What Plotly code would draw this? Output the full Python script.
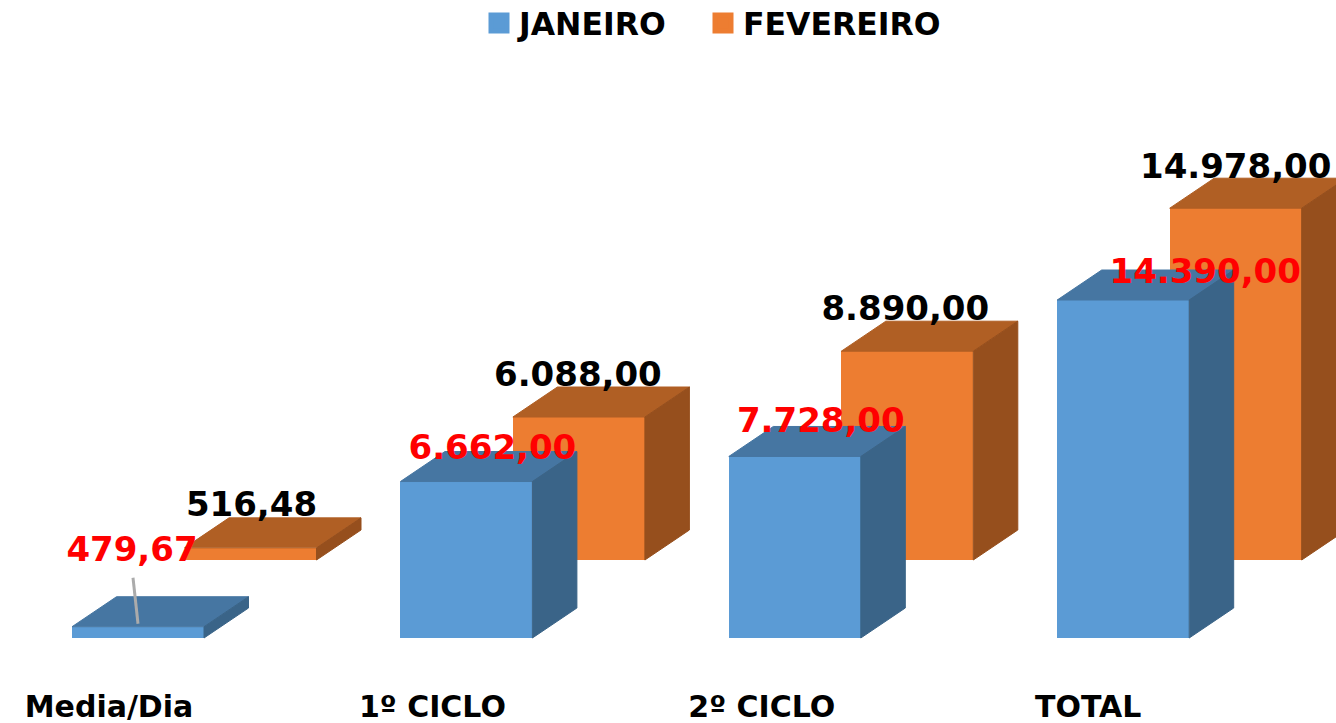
import plotly.graph_objects as go

# --- data ---
categories = ["Media/Dia", "1º CICLO", "2º CICLO", "TOTAL"]
janeiro = [479.67, 6662.00, 7728.00, 14390.00]
fevereiro = [516.48, 6088.00, 8890.00, 14978.00]
series_names = ["JANEIRO", "FEVEREIRO"]

# --- geometry of the pseudo-3D projection (pixels of the 1336x723 page) ---
W, H = 1336, 723
BOTTOM = 47
CAT_PX = 328.4
JAN_CENTER_PX = 138.0
BASE_PX = 638.0
VAL_PER_PX = 14390.0 / 338.0
BAR_PX = 132.0
DEPTH_X_PX, DEPTH_Y_PX = 44.5, 30.0
FEV_SHIFT_X_PX, FEV_SHIFT_Y_PX = 112.5, 78.0

cx = lambda px: px / CAT_PX
cy = lambda px: px * VAL_PER_PX

bar_w = cx(BAR_PX)
dx, dy = cx(DEPTH_X_PX), cy(DEPTH_Y_PX)

# label offsets from bar-top centre in px (right, up)
jan_label_off = [(-6, 74), (26, 31), (26, 33), (82, 26)]
fev_label_off = [(1, 40), (-1, 40), (-2, 40), (0, 39)]
tick_off_px = [-29, -34, -33, -35]

colors = {
    "JANEIRO": ("#5B9BD5", "#4676A2", "#3A6488"),
    "FEVEREIRO": ("#ED7D31", "#B05F24", "#964F1D"),
}
FONT = "DejaVu Sans"


def br(v):
    return f"{v:,.2f}".replace(",", "X").replace(".", ",").replace("X", ".")


def faces(values, shift, base):
    tx, ty, sx, sy = [], [], [], []
    for i, v in enumerate(values):
        l = i + shift - bar_w / 2
        r = l + bar_w
        t = base + v
        tx += [l, r, r + dx, l + dx, l, None]
        ty += [t, t, t + dy, t + dy, t, None]
        sx += [r, r, r + dx, r + dx, r, None]
        sy += [base, t, t + dy, base + dy, base, None]
    return tx, ty, sx, sy


fig = go.Figure()
series = [
    ("FEVEREIRO", fevereiro, cx(FEV_SHIFT_X_PX), cy(FEV_SHIFT_Y_PX)),
    ("JANEIRO", janeiro, 0.0, 0.0),
]
for name, values, shift, base in series:
    front, top, side = colors[name]
    fig.add_trace(go.Bar(
        x=[i + shift for i in range(len(values))], y=values, base=base,
        width=bar_w, marker=dict(color=front, line=dict(width=0)),
        showlegend=False, name=name, hoverinfo="skip",
    ))
    tx, ty, sx, sy = faces(values, shift, base)
    for fx, fy, col in ((tx, ty, top), (sx, sy, side)):
        fig.add_trace(go.Scatter(
            x=fx, y=fy, mode="lines", fill="toself", fillcolor=col,
            line=dict(width=1, color=col), showlegend=False, hoverinfo="skip",
        ))

# leader line of the first January label
fig.add_trace(go.Scatter(
    x=[0 - cx(5), 0], y=[janeiro[0] + cy(49), janeiro[0] + cy(3)],
    mode="lines", line=dict(color="#ABABAB", width=3),
    showlegend=False, hoverinfo="skip",
))

# data labels
fig.add_trace(go.Scatter(
    x=[i + cx(o[0]) for i, o in enumerate(jan_label_off)],
    y=[v + cy(o[1]) for v, o in zip(janeiro, jan_label_off)],
    text=[br(v) for v in janeiro], mode="text", textposition="middle center",
    textfont=dict(family=FONT, size=34, color="#FF0000", weight="bold"),
    showlegend=False, hoverinfo="skip",
))
s, b = cx(FEV_SHIFT_X_PX), cy(FEV_SHIFT_Y_PX)
fig.add_trace(go.Scatter(
    x=[i + s + cx(o[0]) for i, o in enumerate(fev_label_off)],
    y=[v + b + cy(o[1]) for v, o in zip(fevereiro, fev_label_off)],
    text=[br(v) for v in fevereiro], mode="text", textposition="middle center",
    textfont=dict(family=FONT, size=34, color="#000000", weight="bold"),
    showlegend=False, hoverinfo="skip",
))

# legend entries, one legend each so that their spacing can be set
for name, legend_id in zip(series_names, ("legend", "legend2")):
    fig.add_trace(go.Scatter(
        x=[None], y=[None], mode="markers", name=name, legend=legend_id,
        marker=dict(symbol="square", size=16, color=colors[name][0],
                    line=dict(width=5, color=colors[name][0])),
        hoverinfo="skip",
    ))

legend_style = dict(
    orientation="h", xanchor="left", y=1.006, yanchor="top",
    font=dict(family=FONT, size=31.5, color="#000000", weight="bold"),
    itemclick=False, bgcolor="rgba(0,0,0,0)",
)

fig.update_layout(
    width=W, height=H, barmode="overlay", bargap=0,
    margin=dict(l=0, r=0, t=0, b=BOTTOM, pad=0, autoexpand=False),
    paper_bgcolor="white", plot_bgcolor="white",
    showlegend=True,
    legend=dict(x=479 / W, **legend_style),
    legend2=dict(x=703 / W, **legend_style),
    xaxis=dict(
        range=[-JAN_CENTER_PX / CAT_PX, (W - JAN_CENTER_PX) / CAT_PX],
        tickmode="array",
        tickvals=[i + cx(o) for i, o in enumerate(tick_off_px)],
        ticktext=categories, showgrid=False, zeroline=False, showline=False,
        ticks="outside", ticklen=4, tickcolor="rgba(0,0,0,0)",
        tickfont=dict(family=FONT, size=30, color="#000000", weight="bold"),
        fixedrange=True, automargin=False,
    ),
    yaxis=dict(
        range=[-(H - BOTTOM - BASE_PX) * VAL_PER_PX, BASE_PX * VAL_PER_PX],
        visible=False, fixedrange=True,
    ),
)
fig.write_html(
    "out.html", config={"displayModeBar": False},
    post_script="document.body.style.margin='0';document.documentElement.style.overflow='hidden';",
)
